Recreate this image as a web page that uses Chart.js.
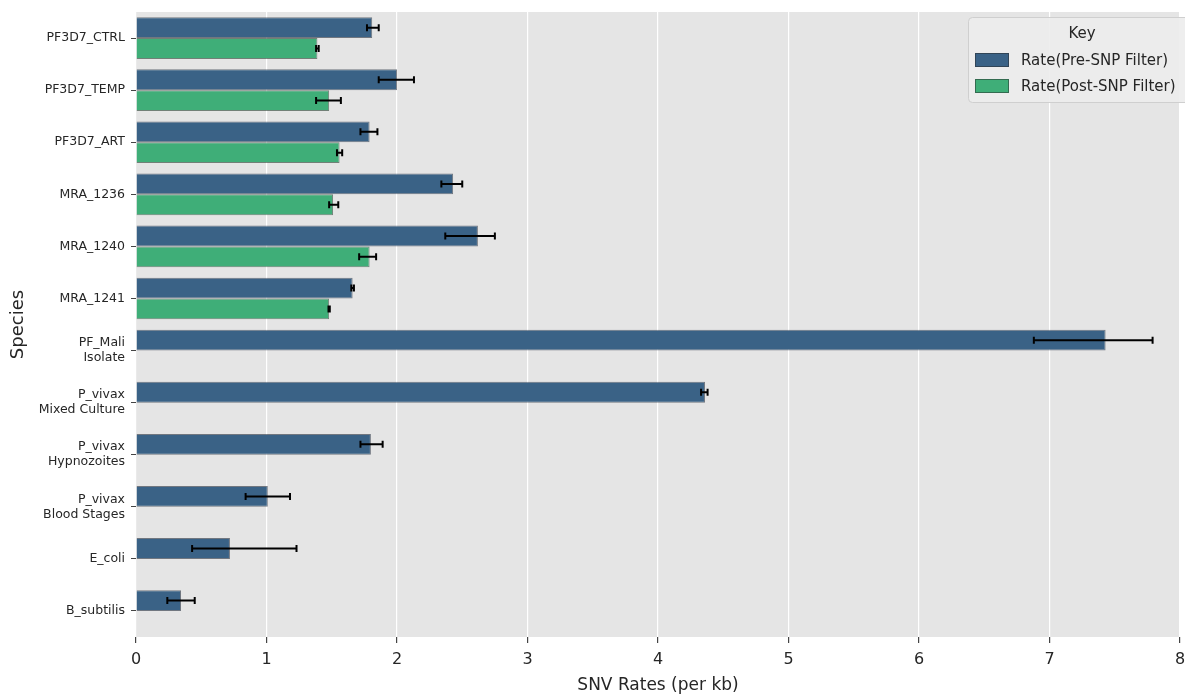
<!DOCTYPE html>
<html>
<head>
<meta charset="utf-8">
<script src="https://cdn.jsdelivr.net/npm/chart.js@4/dist/chart.umd.min.js"></script>
<style>
  html, body { margin: 0; padding: 0; background: #ffffff; }
  #wrap { width: 1185px; height: 696px; position: relative; }
</style>
</head>
<body>
<div id="wrap"><canvas id="c" width="1185" height="696"></canvas></div>
<script>
// Species (multi-line labels are arrays)
const species = [
  'PF3D7_CTRL', 'PF3D7_TEMP', 'PF3D7_ART', 'MRA_1236', 'MRA_1240', 'MRA_1241',
  ['PF_Mali', 'Isolate'], ['P_vivax', 'Mixed Culture'], ['P_vivax', 'Hypnozoites'],
  ['P_vivax', 'Blood Stages'], 'E_coli', 'B_subtilis'
];

// SNV rates per kb, before SNP filtering
const preRate = [1.81, 2.00, 1.79, 2.43, 2.62, 1.66, 7.43, 4.36, 1.80, 1.01, 0.72, 0.345];
const preLow  = [1.77, 1.86, 1.72, 2.34, 2.37, 1.65, 6.88, 4.33, 1.72, 0.84, 0.43, 0.24];
const preHigh = [1.86, 2.13, 1.85, 2.50, 2.75, 1.67, 7.79, 4.38, 1.89, 1.18, 1.23, 0.45];

// SNV rates per kb, after SNP filtering (only measured for the first six)
const postRate = [1.39, 1.48, 1.56, 1.51, 1.79, 1.48, null, null, null, null, null, null];
const postLow  = [1.38, 1.38, 1.54, 1.48, 1.71, 1.475, null, null, null, null, null, null];
const postHigh = [1.40, 1.57, 1.58, 1.55, 1.84, 1.485, null, null, null, null, null, null];

const xTicks = [0, 1, 2, 3, 4, 5, 6, 7, 8];

const FONT = "'DejaVu Sans', sans-serif";

// Error bars drawn through the chart's own scales
const errorBars = {
  id: 'errorBars',
  afterDatasetsDraw(chart) {
    const ctx = chart.ctx;
    const xs = chart.scales.x;
    const ranges = [[preLow, preHigh], [postLow, postHigh]];
    ctx.save();
    ctx.strokeStyle = '#000000';
    ctx.lineWidth = 2;
    ranges.forEach(([lo, hi], di) => {
      const meta = chart.getDatasetMeta(di);
      meta.data.forEach((bar, i) => {
        if (lo[i] == null || hi[i] == null) return;
        const y = bar.y;
        const x1 = xs.getPixelForValue(lo[i]);
        const x2 = xs.getPixelForValue(hi[i]);
        ctx.beginPath();
        ctx.moveTo(x1, y); ctx.lineTo(x2, y);
        ctx.moveTo(x1, y - 3.5); ctx.lineTo(x1, y + 3.5);
        ctx.moveTo(x2, y - 3.5); ctx.lineTo(x2, y + 3.5);
        ctx.stroke();
      });
    });
    ctx.restore();
  }
};

// Boxed legend with a title, placed in the upper right of the plot area
const keyBox = {
  id: 'keyBox',
  afterDraw(chart) {
    const ctx = chart.ctx;
    const x0 = 968, y0 = 17, w = 230, h = 85;
    ctx.save();
    ctx.fillStyle = 'rgba(236,236,236,0.9)';
    ctx.strokeStyle = '#cfcfcf';
    ctx.lineWidth = 1;
    ctx.beginPath();
    ctx.roundRect(x0 + 0.5, y0 + 0.5, w, h, 4);
    ctx.fill();
    ctx.stroke();
    ctx.fillStyle = '#262626';
    ctx.font = '15px ' + FONT;
    ctx.textAlign = 'center';
    ctx.textBaseline = 'middle';
    ctx.fillText('Key', 1082, 34);
    ctx.textAlign = 'left';
    chart.data.datasets.forEach((ds, i) => {
      const yc = 60 + i * 26;
      ctx.fillStyle = ds.backgroundColor;
      ctx.fillRect(975, yc - 7, 34, 14);
      ctx.strokeStyle = 'rgba(40,40,40,0.5)';
      ctx.strokeRect(975.5, yc - 6.5, 33, 13);
      ctx.fillStyle = '#262626';
      ctx.fillText(ds.label, 1021, yc + 1);
    });
    ctx.restore();
  }
};

// Grey panel behind the plot
const panel = {
  id: 'panel',
  beforeDraw(chart) {
    const a = chart.chartArea;
    const ctx = chart.ctx;
    ctx.save();
    ctx.fillStyle = '#e5e5e5';
    ctx.fillRect(a.left, a.top, a.right - a.left, a.bottom - a.top);
    ctx.restore();
  }
};

new Chart(document.getElementById('c'), {
  type: 'bar',
  data: {
    labels: species,
    datasets: [
      {
        label: 'Rate(Pre-SNP Filter)',
        data: preRate,
        backgroundColor: '#3a6286',
        borderColor: 'rgba(35,45,60,0.6)',
        borderWidth: 1,
        categoryPercentage: 0.8,
        barPercentage: 1.0
      },
      {
        label: 'Rate(Post-SNP Filter)',
        data: postRate,
        backgroundColor: '#3fae78',
        borderColor: 'rgba(35,60,45,0.6)',
        borderWidth: 1,
        categoryPercentage: 0.8,
        barPercentage: 1.0
      }
    ]
  },
  options: {
    indexAxis: 'y',
    responsive: false,
    animation: false,
    layout: { padding: { top: 12, right: 5, left: 8, bottom: 0 } },
    plugins: {
      legend: { display: false },
      tooltip: { enabled: false }
    },
    scales: {
      x: {
        type: 'linear',
        min: 0,
        max: 8,
        afterBuildTicks(scale) { scale.ticks = xTicks.map(v => ({ value: v })); },
        afterFit(scale) {
          scale.height = 59;
          scale.paddingLeft = 0;
          scale.paddingRight = 0;
        },
        border: { display: false },
        grid: {
          color: '#ffffff',
          lineWidth: 1.2,
          tickColor: '#444444',
          tickLength: 6,
          drawTicks: true
        },
        ticks: {
          color: '#262626',
          font: { family: FONT, size: 16 },
          padding: 7
        },
        title: {
          display: true,
          text: 'SNV Rates (per kb)',
          color: '#262626',
          font: { family: FONT, size: 17 },
          padding: { top: 0, bottom: 0 }
        }
      },
      y: {
        afterFit(scale) {
          scale.width = 128;
          scale.paddingTop = 0;
          scale.paddingBottom = 0;
        },
        border: { display: false },
        grid: {
          drawOnChartArea: false,
          offset: false,
          tickColor: '#444444',
          tickLength: 5
        },
        ticks: {
          color: '#262626',
          font: { family: FONT, size: 12.5 },
          padding: 6,
          autoSkip: false
        },
        title: {
          display: true,
          text: 'Species',
          color: '#262626',
          font: { family: FONT, size: 18 },
          padding: { top: 0, bottom: 0 }
        }
      }
    }
  },
  plugins: [panel, errorBars, keyBox]
});
</script>
</body>
</html>
